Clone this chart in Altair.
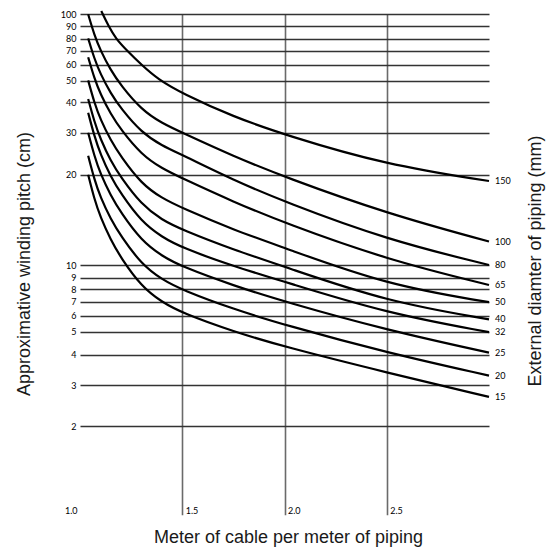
import altair as alt
import pandas as pd

# ---- data -------------------------------------------------------------------
# cable length per metre of pipe at which the curves were read
x_pts = [1.04, 1.07, 1.10, 1.15, 1.20, 1.30, 1.40, 1.50, 1.75, 2.00, 2.50, 3.00]
x_pts_150 = [1.104, 1.14, 1.175, 1.23, 1.30, 1.38, 1.50, 1.75, 2.00, 2.50, 3.00]

# approximate winding pitch (cm) for each external pipe diameter (mm)
pitch_150 = [102.7, 90, 80, 70, 60, 51, 44.0, 35.2, 29.5, 22.3, 19.3]
pitch_100 = [100, 83.1, 70.2, 56.6, 47.8, 37.5, 33.1, 30.0, 24.4, 19.75, 15.7, 12.6]
pitch_80 = [80.3, 64.4, 54.2, 44.1, 37.9, 30.1, 26.9, 24.7, 19.4, 17.0, 12.8, 10.0]
pitch_65 = [65.3, 51.5, 43.7, 36.1, 31.0, 24.8, 21.5, 19.6, 17.0, 14.65, 10.6, 8.35]
pitch_50 = [50.2, 39.8, 34.3, 28.2, 24.3, 19.0, 17.4, 16.3, 13.9, 11.9, 8.35, 6.95]
pitch_40 = [41.4, 33.6, 28.5, 23.3, 19.7, 16.7, 15.0, 13.9, 11.7, 9.86, 6.99, 5.76]
pitch_32 = [36.5, 29.2, 24.9, 19.8, 17.9, 14.8, 13.1, 11.9, 9.9, 8.63, 6.16, 4.97]
pitch_25 = [30.0, 24.5, 20.2, 17.7, 15.8, 12.7, 11.0, 9.86, 8.3, 6.99, 5.09, 4.09]
pitch_20 = [24.5, 19.5, 17.5, 15.1, 13.2, 10.1, 8.83, 7.92, 6.46, 5.41, 4.09, 3.31]
pitch_15 = [20.0, 17.3, 15.3, 12.8, 10.8, 8.23, 6.96, 6.18, 5.0, 4.34, 3.41, 2.71]

diameters = ["150", "100", "80", "65", "50", "40", "32", "25", "20", "15"]

y_ticks = [2, 3, 4, 5, 6, 7, 8, 9, 10, 20, 30, 40, 50, 60, 70, 80, 90, 100]
x_ticks = [1.0, 1.5, 2.0, 2.5]

# ---- scale of the nomogram (non-uniform, piecewise) -------------------------
y_domain = [1, 2, 3, 4, 5, 6, 7, 8, 9, 10, 20, 30, 40, 50, 60, 70, 80, 90, 100]
y_range = [501.5, 412, 371, 340.7, 317.5, 301.5, 287.5, 275, 263.5, 251,
           160.7, 118.7, 88, 66.7, 50.7, 36.7, 24.7, 12.3, 0.3]

# ---- build table ------------------------------------------------------------
series = [pitch_150, pitch_100, pitch_80, pitch_65, pitch_50,
          pitch_40, pitch_32, pitch_25, pitch_20, pitch_15]
rows = []
for d, vals in zip(diameters, series):
    xs = x_pts_150 if d == "150" else x_pts
    for xv, yv in zip(xs, vals):
        rows.append({"diameter": d, "x": xv, "pitch": yv})
df = pd.DataFrame(rows)
end_df = df.groupby("diameter", as_index=False).last()

TITLE_FONT = "Liberation Sans"
LABEL_FONT = "Lato"

y_scale = alt.Scale(type="linear", domain=y_domain, range=y_range,
                    zero=False, nice=False)
x_scale = alt.Scale(domain=[1, 3], zero=False, nice=False)

x_axis = alt.Axis(
    orient="bottom",
    values=x_ticks, format=".1f", title="Meter of cable per meter of piping",
    domain=False, ticks=False, grid=True,
    gridColor={"condition": {"test": "datum.value == 1", "value": "transparent"},
               "value": "#6a6a6a"},
    gridWidth=1.6,
    labelAlign={"condition": {"test": "datum.value == 1", "value": "right"},
                "value": "left"},
    labelOffset={"condition": {"test": "datum.value == 1", "value": -3},
                 "value": 3},
    labelFlush=False, labelOverlap=False,
    labelPadding=-2, labelBaseline="alphabetic",
    labelFont=LABEL_FONT, labelFontSize=9, labelColor="#000",
    titleFont=TITLE_FONT, titleFontSize=18, titleFontWeight="normal",
    titleColor="#1a1a1a", titleX=208, titleY=27, titleAlign="center",
    titleBaseline="alphabetic",
)

y_axis = alt.Axis(
    orient="left",
    values=y_ticks, format="d", title="Approximative winding pitch (cm)",
    domain=False, ticks=False, grid=True, gridColor="#333333", gridWidth=1.3,
    labelFlush=False, labelOverlap=False, labelPadding=4,
    labelFont=LABEL_FONT, labelFontSize=9, labelColor="#000",
    titleFont=TITLE_FONT, titleFontSize=18, titleFontWeight="normal",
    titleColor="#1a1a1a", titleAngle=270, titleX=-50.5, titleY=249.5,
    titleAlign="center", titleBaseline="alphabetic",
)

y_axis_right = alt.Axis(
    orient="right", title="External diamter of piping (mm)",
    labels=False, ticks=False, domain=False, grid=False,
    titleFont=TITLE_FONT, titleFontSize=18, titleFontWeight="normal",
    titleColor="#1a1a1a", titleAngle=270, titleX=51, titleY=246.5,
    titleAlign="center", titleBaseline="alphabetic",
)

lines = alt.Chart(df).mark_line(
    interpolate="basis", color="black", strokeWidth=2.2
).encode(
    x=alt.X("x:Q", scale=x_scale, axis=x_axis),
    y=alt.Y("pitch:Q", scale=y_scale, axis=y_axis),
    detail="diameter:N",
)

end_labels = alt.Chart(end_df).mark_text(
    align="left", baseline="middle", dx=6, font=LABEL_FONT, fontSize=9, color="#000"
).encode(
    x=alt.X("x:Q", scale=x_scale, axis=None),
    y=alt.Y("pitch:Q", scale=y_scale, axis=y_axis_right),
    text="diameter:N",
)

chart = alt.layer(lines, end_labels).resolve_axis(
    x="independent", y="independent"
).properties(
    width=409, height=501,
    padding={"left": 72, "top": 6, "right": 57, "bottom": 35},
    autosize=alt.AutoSizeParams(type="none"),
).configure_view(stroke=None)

chart.save("out.html", embed_options={"renderer": "svg", "actions": False})
